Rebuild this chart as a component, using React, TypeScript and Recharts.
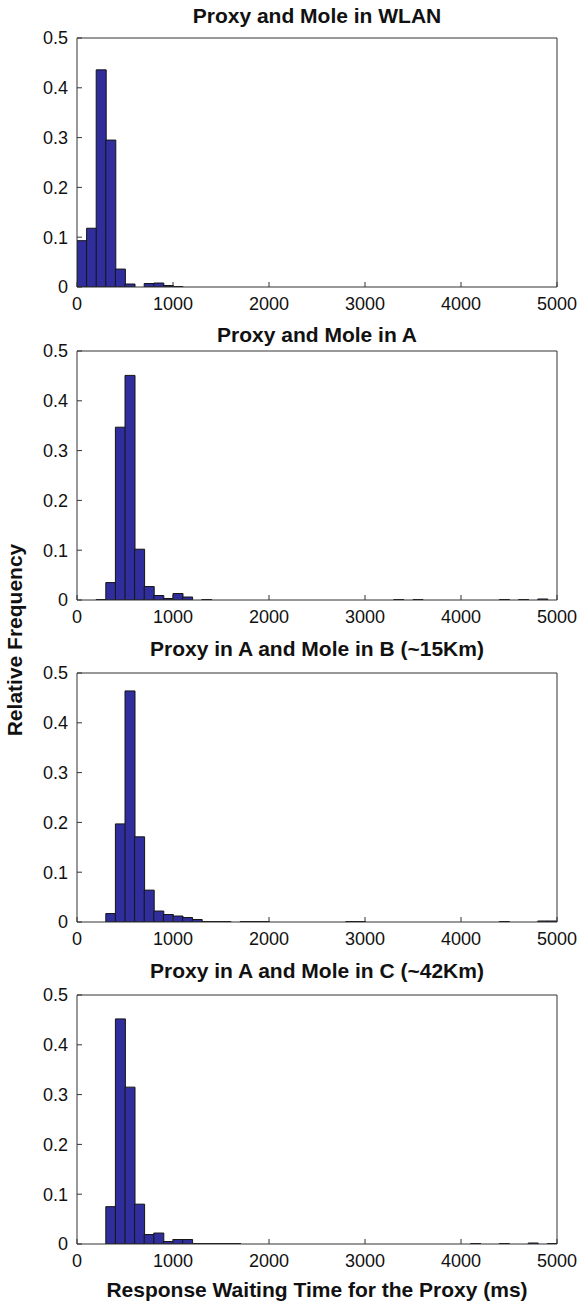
import React from 'react';
import { ComposedChart, Bar, Line, XAxis, YAxis } from 'recharts';

const binWidth = 100;
const binCount = 50;
const xTicks = [0, 1000, 2000, 3000, 4000, 5000];
const yTicks = [0, 0.1, 0.2, 0.3, 0.4, 0.5];

const titles = [
  'Proxy and Mole in WLAN',
  'Proxy and Mole in A',
  'Proxy in A and Mole in B (~15Km)',
  'Proxy in A and Mole in C (~42Km)',
];

// relative frequency per 100 ms bin (0-100, 100-200, ... 4900-5000)
const wlanFreq = [
  0.093, 0.118, 0.436, 0.295, 0.036, 0.006, 0, 0.007, 0.008, 0.003,
  0.001, 0, 0, 0, 0, 0, 0, 0, 0, 0,
  0, 0, 0, 0, 0, 0, 0, 0, 0, 0,
  0, 0, 0, 0, 0, 0, 0, 0, 0, 0,
  0, 0, 0, 0, 0, 0, 0, 0, 0, 0,
];
const aFreq = [
  0, 0, 0.001, 0.035, 0.347, 0.451, 0.102, 0.027, 0.009, 0.003,
  0.013, 0.006, 0, 0.001, 0, 0, 0, 0, 0, 0,
  0, 0, 0, 0, 0, 0, 0, 0, 0, 0,
  0, 0, 0, 0.001, 0, 0.001, 0, 0, 0, 0,
  0, 0, 0, 0, 0.001, 0, 0.001, 0, 0.002, 0,
];
const abFreq = [
  0, 0, 0, 0.017, 0.197, 0.464, 0.171, 0.064, 0.022, 0.015,
  0.012, 0.009, 0.005, 0.001, 0.001, 0.001, 0, 0.001, 0.001, 0.001,
  0, 0, 0, 0, 0, 0, 0, 0, 0.001, 0.001,
  0, 0, 0, 0, 0, 0, 0, 0, 0, 0,
  0, 0, 0, 0, 0.001, 0, 0, 0, 0.002, 0.002,
];
const acFreq = [
  0, 0, 0, 0.075, 0.452, 0.315, 0.08, 0.019, 0.022, 0.005,
  0.009, 0.009, 0.001, 0.001, 0.001, 0.001, 0.001, 0, 0, 0,
  0, 0, 0, 0, 0, 0, 0, 0, 0, 0,
  0, 0, 0, 0, 0, 0, 0, 0, 0, 0,
  0, 0.001, 0, 0, 0.001, 0, 0, 0.002, 0, 0.001,
];

const panelSeries = [wlanFreq, aFreq, abFreq, acFreq];
const plotTops = [38, 351, 673, 995];
const titleCenters = [15, 334, 648, 970];

const PLOT_H = 249;
const BAR_FILL = '#2f2e9c';
const FRAME = '#333333';

function Panel({ top, values }: { top: number; values: number[] }) {
  const data = values.slice(0, binCount).map((v, i) => ({ x: i * binWidth + binWidth / 2, v }));
  return (
    <div style={{ position: 'absolute', left: 0, top: top - 10 }}>
      <ComposedChart
        width={578}
        height={PLOT_H + 50}
        data={data}
        margin={{ top: 9, right: 20, bottom: 0, left: 0 }}
        barCategoryGap={0}
        barGap={0}
      >
        <XAxis
          xAxisId="b"
          dataKey="x"
          type="number"
          domain={[0, 5000]}
          ticks={xTicks}
          interval={0}
          allowDataOverflow
          tickSize={-5}
          tickMargin={15}
          height={40}
          stroke={FRAME}
          tick={{ fill: '#111', fontSize: 18 }}
        />
        <XAxis
          xAxisId="t"
          orientation="top"
          dataKey="x"
          type="number"
          domain={[0, 5000]}
          ticks={xTicks}
          interval={0}
          allowDataOverflow
          tickSize={-5}
          height={1}
          stroke={FRAME}
          tick={false}
        />
        <YAxis
          yAxisId="l"
          type="number"
          domain={[0, 0.5]}
          ticks={yTicks}
          interval={0}
          allowDataOverflow
          width={77}
          tickSize={-5}
          tickMargin={14}
          stroke={FRAME}
          tick={{ fill: '#111', fontSize: 18 }}
        />
        <YAxis
          yAxisId="r"
          orientation="right"
          type="number"
          domain={[0, 0.5]}
          ticks={yTicks}
          interval={0}
          allowDataOverflow
          width={1}
          tickSize={-5}
          stroke={FRAME}
          tick={false}
        />
        <Bar
          xAxisId="b"
          yAxisId="l"
          dataKey="v"
          fill={BAR_FILL}
          stroke="#151515"
          strokeWidth={1}
          isAnimationActive={false}
        />
        <Line
          xAxisId="t"
          yAxisId="r"
          dataKey="v"
          stroke="none"
          strokeOpacity={0}
          dot={false}
          activeDot={false}
          legendType="none"
          isAnimationActive={false}
        />
      </ComposedChart>
    </div>
  );
}

export default function App() {
  return (
    <div
      style={{
        position: 'absolute',
        left: 0,
        top: 0,
        width: 578,
        height: 1307,
        background: '#fff',
        fontFamily: '"Liberation Sans", Arial, Helvetica, sans-serif',
        overflow: 'hidden',
      }}
    >
      {panelSeries.map((vals, i) => (
        <React.Fragment key={i}>
          <div
            style={{
              position: 'absolute',
              left: 77,
              width: 480,
              top: titleCenters[i] - 11.5,
              textAlign: 'center',
              fontSize: 21,
              lineHeight: '24px',
              fontWeight: 'bold',
              color: '#111',
              whiteSpace: 'nowrap',
            }}
          >
            {titles[i]}
          </div>
          <Panel top={plotTops[i]} values={vals} />
        </React.Fragment>
      ))}
      <div
        style={{
          position: 'absolute',
          left: 15 - 150,
          top: 640 - 12,
          width: 300,
          height: 24,
          lineHeight: '24px',
          textAlign: 'center',
          fontSize: 21,
          fontWeight: 'bold',
          color: '#111',
          transform: 'rotate(-90deg)',
          whiteSpace: 'nowrap',
        }}
      >
        Relative Frequency
      </div>
      <div
        style={{
          position: 'absolute',
          left: 77,
          width: 480,
          top: 1290 - 12,
          lineHeight: '24px',
          textAlign: 'center',
          fontSize: 21,
          fontWeight: 'bold',
          color: '#111',
          whiteSpace: 'nowrap',
        }}
      >
        Response Waiting Time for the Proxy (ms)
      </div>
    </div>
  );
}
